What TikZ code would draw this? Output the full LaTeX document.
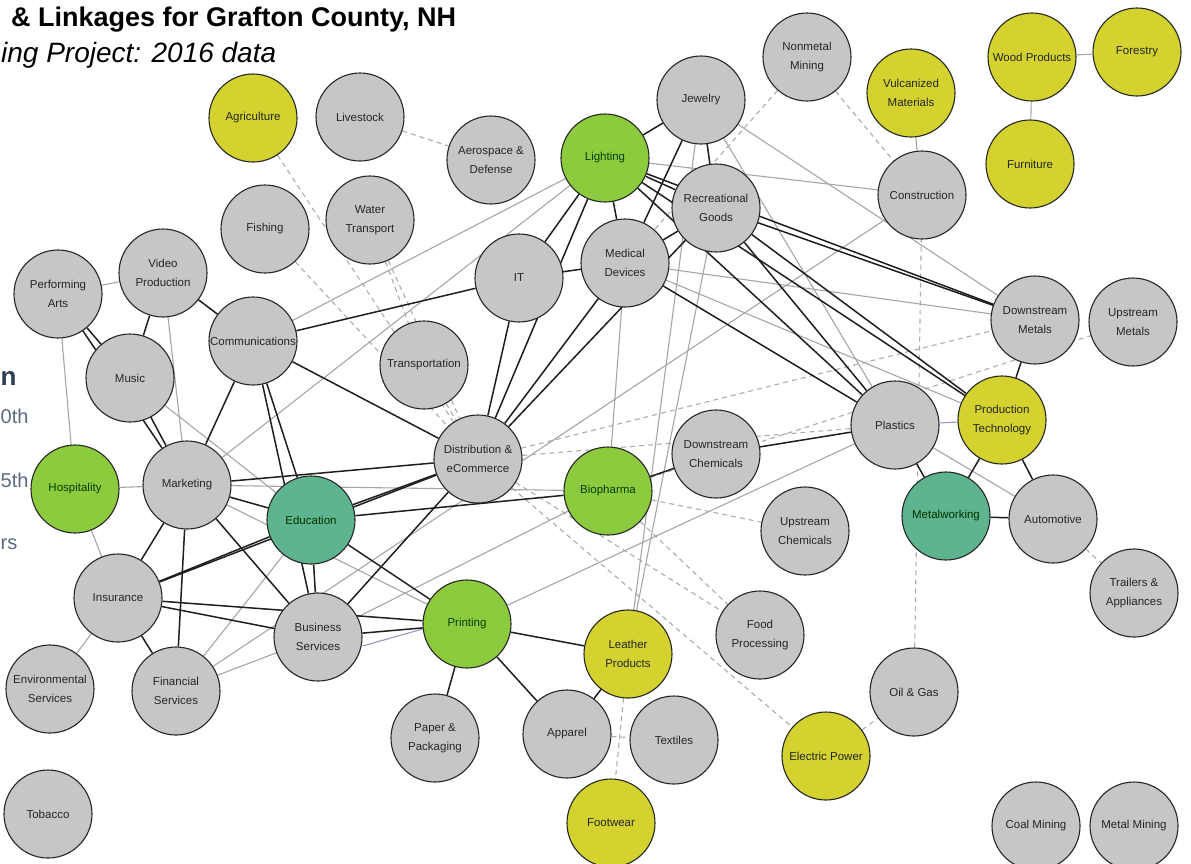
\documentclass[tikz,border=0pt]{standalone}
\usepackage{fontspec}
\setmainfont{Liberation Sans}
\usetikzlibrary{backgrounds}

\definecolor{nodegray}{HTML}{C6C6C6}
\definecolor{leafgreen}{HTML}{8DCB3E}
\definecolor{mustard}{HTML}{D3D22E}
\definecolor{seagreen}{HTML}{5DB48E}
\definecolor{edgedark}{HTML}{1E1E1E}
\definecolor{edgegray}{HTML}{A6A6A6}
\definecolor{edgedash}{HTML}{ADADAD}
\definecolor{edgeblue}{HTML}{9898C8}
\definecolor{titlenavy}{HTML}{2E3E55}
\definecolor{legendslate}{HTML}{5A6B82}

\tikzset{
  cluster/.style={circle, draw=black!85, line width=1.1pt, minimum size=88pt,
    inner sep=0pt, align=center, font=\fontsize{11.5}{19}\selectfont, text=black!85},
  grayc/.style={cluster, fill=nodegray},
  greenc/.style={cluster, fill=leafgreen, text=green!25!black},
  yellowc/.style={cluster, fill=mustard, text=black!85},
  tealc/.style={cluster, fill=seagreen, text=green!20!black},
  strong/.style={draw=edgedark, line width=1.5pt},
  weak/.style={draw=edgegray, line width=1.1pt},
  dashlink/.style={draw=edgedash, line width=1.1pt, dash pattern=on 5pt off 4pt},
  bluelink/.style={draw=edgeblue, line width=1.1pt},
  legendtext/.style={anchor=base west, inner sep=0pt, text=legendslate, font=\fontsize{20}{24}\selectfont},
}

\begin{document}
\begin{tikzpicture}[x=1pt, y=-1pt]
\useasboundingbox (0,0) rectangle (1191,863);

% headings and legend fragments
\node[anchor=base west, inner sep=0pt, font=\bfseries\fontsize{27}{32}\selectfont] (title) at (11,26) {\& Linkages for Grafton County, NH};
\node[anchor=base west, inner sep=0pt, font=\itshape\fontsize{28}{32}\selectfont] (subtitle) at (1,62) {ing Project: 2016 data};
\node[anchor=base west, inner sep=0pt, text=titlenavy, font=\bfseries\fontsize{26}{30}\selectfont] (legendhead) at (0.5,385) {n};
\node[legendtext] (legendA) at (0.5,423) {0th};
\node[legendtext] (legendB) at (0.5,487) {5th};
\node[legendtext] (legendC) at (0.5,549) {rs};

% clusters
\node[yellowc] (agri)    at (253,118) {Agriculture};
\node[grayc]   (live)    at (360,117) {Livestock};
\node[grayc]   (aero)    at (491,160) {Aerospace \&\\Defense};
\node[greenc]  (light)   at (605,158) {Lighting};
\node[grayc]   (jewel)   at (701,100) {Jewelry};
\node[grayc]   (nonmet)  at (807,57)  {Nonmetal\\Mining};
\node[yellowc] (vulc)    at (911,93)  {Vulcanized\\Materials};
\node[yellowc] (wood)    at (1032,57) {Wood Products};
\node[yellowc] (forest)  at (1137,52) {Forestry};
\node[yellowc] (furn)    at (1030,164) {Furniture};
\node[grayc]   (constr)  at (922,195) {Construction};
\node[grayc]   (recr)    at (716,208) {Recreational\\Goods};
\node[grayc]   (fish)    at (265,229) {Fishing};
\node[grayc]   (water)   at (370,220) {Water\\Transport};
\node[grayc]   (it)      at (519,278) {IT};
\node[grayc]   (meddev)  at (625,263) {Medical\\Devices};
\node[grayc]   (perf)    at (58,294)  {Performing\\Arts};
\node[grayc]   (video)   at (163,273) {Video\\Production};
\node[grayc]   (comm)    at (253,341) {Communications};
\node[grayc]   (music)   at (130,378) {Music};
\node[grayc]   (transp)  at (424,365) {Transportation};
\node[grayc]   (dmet)    at (1035,320) {Downstream\\Metals};
\node[grayc]   (umet)    at (1133,322) {Upstream\\Metals};
\node[grayc]   (plast)   at (895,425) {Plastics};
\node[yellowc] (prodtech) at (1002,420) {Production\\Technology};
\node[grayc]   (distr)   at (478,459) {Distribution \&\\eCommerce};
\node[grayc]   (dchem)   at (716,454) {Downstream\\Chemicals};
\node[greenc]  (bio)     at (608,491) {Biopharma};
\node[greenc]  (hosp)    at (75,489)  {Hospitality};
\node[grayc]   (mkt)     at (187,485) {Marketing};
\node[tealc]   (edu)     at (311,520) {Education};
\node[tealc]   (metal)   at (946,516) {Metalworking};
\node[grayc]   (auto)    at (1053,519) {Automotive};
\node[grayc]   (uchem)   at (805,531) {Upstream\\Chemicals};
\node[grayc]   (trail)   at (1134,593) {Trailers \&\\Appliances};
\node[grayc]   (insur)   at (118,598) {Insurance};
\node[grayc]   (biz)     at (318,637) {Business\\Services};
\node[greenc]  (print)   at (467,624) {Printing};
\node[yellowc] (leather) at (628,654) {Leather\\Products};
\node[grayc]   (food)    at (760,635) {Food\\Processing};
\node[grayc]   (env)     at (50,689)  {Environmental\\Services};
\node[grayc]   (fin)     at (176,691) {Financial\\Services};
\node[grayc]   (paper)   at (435,738) {Paper \&\\Packaging};
\node[grayc]   (apparel) at (567,734) {Apparel};
\node[grayc]   (textile) at (674,740) {Textiles};
\node[grayc]   (oil)     at (914,692) {Oil \& Gas};
\node[yellowc] (elec)    at (826,756) {Electric Power};
\node[yellowc] (foot)    at (611,823) {Footwear};
\node[grayc]   (tobacco) at (48,814)  {Tobacco};
\node[grayc]   (coal)    at (1036,826) {Coal Mining};
\node[grayc]   (metmin)  at (1134,826) {Metal Mining};

\begin{pgfonlayer}{background}
\fill[white] (0,0) rectangle (1191,863);

% weaker related links
\foreach \a/\b in {live/aero, agri/distr, fish/distr, water/transp, water/distr,
    transp/distr, distr/food, distr/elec, distr/dmet, distr/plast, bio/uchem,
    bio/food, bio/umet, leather/foot, apparel/textile, elec/oil, oil/constr,
    nonmet/meddev, nonmet/constr, auto/trail}
  \draw[dashlink] (\a) -- (\b);

% medium links
\foreach \a/\b in {perf/video, perf/hosp, video/mkt, comm/light, mkt/hosp,
    hosp/insur, insur/env, fin/edu, fin/biz, fin/constr, mkt/light, mkt/bio,
    mkt/print, music/edu, biz/bio, print/plast, light/constr, jewel/dmet,
    jewel/plast, jewel/leather, recr/leather, meddev/dmet, meddev/prodtech,
    meddev/bio, plast/auto, constr/vulc, wood/furn, wood/forest}
  \draw[weak] (\a) -- (\b);

\draw[bluelink] (plast) -- (prodtech);
\draw[bluelink] ([yshift=-9pt]biz.east) -- ([yshift=-5pt]print.west);

% strong links
\foreach \a/\b in {perf/music, perf/mkt, music/mkt, video/music, video/comm,
    comm/mkt, comm/edu, comm/biz, comm/it, comm/distr,
    mkt/insur, mkt/fin, mkt/edu, mkt/biz, mkt/distr,
    insur/edu, insur/distr, insur/biz, insur/print, insur/fin,
    edu/distr, edu/bio, edu/print, edu/biz, biz/distr, biz/print,
    print/leather, print/paper, print/apparel, leather/apparel,
    it/light, it/meddev, it/distr,
    light/jewel, light/recr, light/meddev, light/distr, light/plast,
    light/prodtech, light/dmet, jewel/recr, jewel/meddev,
    meddev/recr, meddev/distr, meddev/plast,
    recr/distr, recr/plast, recr/prodtech, recr/dmet,
    bio/dchem, dchem/plast, plast/metal, prodtech/dmet,
    prodtech/metal, prodtech/auto, metal/auto}
  \draw[strong] (\a) -- (\b);
\end{pgfonlayer}
\end{tikzpicture}
\end{document}
